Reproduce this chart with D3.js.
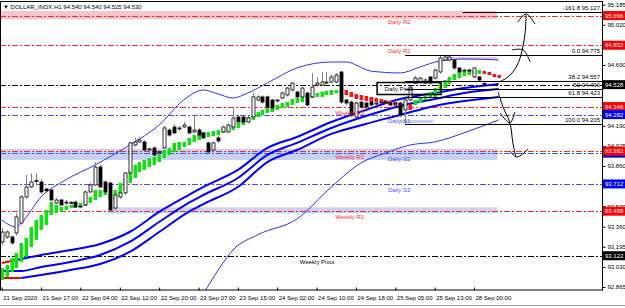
<!DOCTYPE html>
<html>
<head>
<meta charset="utf-8">
<script src="https://cdn.jsdelivr.net/npm/d3@7"></script>
<style>
  body { margin: 0; background: #fff; }
  svg text { font-family: "Liberation Sans", Arial, sans-serif; font-size: 6px; }
</style>
</head>
<body>
<div id="chart"></div>
<script>
// ---- data (H1 bars, index 0 = 21 Sep 2020 00:00) ----
const xLabels = ["21 Sep 2020", "21 Sep 17:00", "22 Sep 04:00", "22 Sep 12:00", "22 Sep 20:00",
  "23 Sep 07:00", "23 Sep 15:00", "24 Sep 02:00", "24 Sep 10:00", "24 Sep 18:00",
  "25 Sep 05:00", "25 Sep 13:00", "28 Sep 00:00"];
const xLabelBars = [0, 8, 16, 24, 32, 40, 48, 56, 64, 72, 80, 88, 96];
// grid prices; the ones hidden behind the price tags are left out
const yTicks = [95.185, 95.020, 94.690, 94.190, 94.025, 93.860, 93.530, 93.360, 93.195, 93.030, 92.865];

const opens = [
  93.235, 93.276, 93.276, 93.309, 93.391, 93.605, 93.687, 93.735, 93.728, 93.670,
  93.662, 93.555, 93.580, 93.555, 93.560, 93.563, 93.522, 93.539, 93.646, 93.703,
  93.851, 93.728, 93.720, 93.514, 93.605, 93.638, 93.802, 94.032, 94.057, 94.057,
  93.991, 94.008, 93.966, 94.008, 94.155, 94.180, 94.170, 94.180, 94.180, 94.139,
  94.155, 94.131, 94.049, 93.991, 94.090, 94.139, 94.139, 94.180, 94.262, 94.262,
  94.221, 94.262, 94.402, 94.427, 94.427, 94.402, 94.395, 94.418, 94.443, 94.484,
  94.467, 94.427, 94.459, 94.427, 94.525, 94.525, 94.541, 94.550, 94.550, 94.632,
  94.402, 94.385, 94.262, 94.385, 94.377, 94.385, 94.370, 94.380, 94.385, 94.377,
  94.375, 94.377, 94.320, 94.402, 94.541, 94.550, 94.541, 94.591, 94.582, 94.632,
  94.730, 94.730, 94.730, 94.665, 94.640, 94.648, 94.591, 94.591, 94.540];
const highs = [
  93.350, 93.330, 93.290, 93.470, 93.620, 93.785, 93.800, 93.800, 93.750, 93.680,
  93.670, 93.600, 93.590, 93.580, 93.570, 93.575, 93.540, 93.660, 93.720, 93.890,
  93.870, 93.740, 93.730, 93.630, 93.650, 93.810, 94.060, 94.090, 94.100, 94.070,
  94.010, 94.020, 93.990, 94.190, 94.170, 94.200, 94.190, 94.220, 94.190, 94.280,
  94.170, 94.140, 94.060, 94.060, 94.110, 94.190, 94.210, 94.336, 94.280, 94.270,
  94.270, 94.460, 94.440, 94.440, 94.440, 94.410, 94.410, 94.470, 94.510, 94.550,
  94.480, 94.510, 94.470, 94.624, 94.590, 94.632, 94.630, 94.610, 94.624, 94.640,
  94.410, 94.400, 94.390, 94.400, 94.390, 94.400, 94.390, 94.400, 94.400, 94.390,
  94.390, 94.390, 94.420, 94.520, 94.600, 94.590, 94.580, 94.600, 94.660, 94.770,
  94.775, 94.770, 94.740, 94.670, 94.660, 94.660, 94.670, 94.600, 94.540];
const lows = [
  93.210, 93.260, 93.210, 93.290, 93.380, 93.590, 93.680, 93.700, 93.630, 93.640,
  93.570, 93.550, 93.530, 93.540, 93.545, 93.515, 93.515, 93.530, 93.640, 93.700,
  93.680, 93.630, 93.480, 93.500, 93.590, 93.620, 93.790, 94.020, 94.050, 93.980,
  93.970, 93.940, 93.950, 94.000, 94.100, 94.120, 94.150, 94.170, 94.120, 94.130,
  94.100, 94.080, 93.960, 93.980, 94.050, 94.130, 94.130, 94.170, 94.210, 94.210,
  94.210, 94.250, 94.390, 94.370, 94.330, 94.320, 94.380, 94.410, 94.430, 94.470,
  94.410, 94.420, 94.350, 94.420, 94.510, 94.520, 94.530, 94.540, 94.540, 94.370,
  94.360, 94.260, 94.250, 94.330, 94.330, 94.350, 94.360, 94.370, 94.370, 94.350,
  94.360, 94.260, 94.205, 94.390, 94.530, 94.540, 94.530, 94.530, 94.570, 94.620,
  94.720, 94.720, 94.650, 94.620, 94.630, 94.630, 94.580, 94.555, 94.525];
const closes = [
  93.317, 93.317, 93.227, 93.441, 93.605, 93.687, 93.728, 93.740, 93.646, 93.655,
  93.580, 93.580, 93.539, 93.563, 93.555, 93.522, 93.530, 93.646, 93.703, 93.851,
  93.687, 93.646, 93.498, 93.621, 93.638, 93.802, 94.049, 94.057, 94.073, 93.991,
  94.000, 93.950, 93.975, 94.172, 94.114, 94.131, 94.172, 94.196, 94.131, 94.155,
  94.114, 94.090, 93.975, 94.049, 94.065, 94.180, 94.196, 94.254, 94.221, 94.221,
  94.254, 94.427, 94.427, 94.385, 94.344, 94.336, 94.402, 94.459, 94.500, 94.541,
  94.427, 94.500, 94.361, 94.508, 94.541, 94.550, 94.550, 94.591, 94.607, 94.385,
  94.377, 94.279, 94.377, 94.344, 94.344, 94.361, 94.377, 94.385, 94.380, 94.361,
  94.377, 94.279, 94.402, 94.508, 94.582, 94.582, 94.566, 94.541, 94.648, 94.747,
  94.755, 94.755, 94.665, 94.632, 94.648, 94.640, 94.665, 94.566, 94.530];

// smoothed (Heiken-Ashi style) bars, green up / red down
const haOpen = [
  92.923, 92.948, 92.989, 93.021, 93.071, 93.112, 93.194, 93.252, 93.334, 93.375,
  93.457, 93.473, 93.482, 93.498, 93.515, 93.515, 93.523, 93.531, 93.556, 93.580,
  93.605, 93.621, 93.580, 93.580, 93.605, 93.662, 93.720, 93.761, 93.810, 93.827,
  93.851, 93.868, 93.892, 93.925, 93.950, 93.975, 93.991, 94.016, 94.032, 94.057,
  94.073, 94.090, 94.098, 94.106, 94.114, 94.131, 94.139, 94.155, 94.172, 94.196,
  94.221, 94.238, 94.262, 94.279, 94.295, 94.303, 94.320, 94.336, 94.344, 94.361,
  94.377, 94.385, 94.402, 94.418, 94.427, 94.427, 94.443, 94.443, 94.459, 94.468,
  94.484, 94.468, 94.451, 94.443, 94.435, 94.427, 94.418, 94.410, 94.402, 94.394,
  94.385, 94.377, 94.369, 94.369, 94.361, 94.377, 94.402, 94.418, 94.427, 94.468,
  94.500, 94.533, 94.566, 94.583, 94.599, 94.607, 94.616, 94.616, 94.640, 94.632,
  94.616, 94.607];
const haClose = [
  93.021, 93.046, 93.104, 93.145, 93.227, 93.268, 93.358, 93.416, 93.457, 93.498,
  93.564, 93.539, 93.523, 93.531, 93.539, 93.539, 93.556, 93.564, 93.605, 93.662,
  93.662, 93.662, 93.638, 93.662, 93.720, 93.761, 93.827, 93.868, 93.892, 93.909,
  93.925, 93.934, 93.950, 93.991, 94.008, 94.049, 94.057, 94.057, 94.090, 94.114,
  94.131, 94.139, 94.139, 94.147, 94.155, 94.172, 94.180, 94.196, 94.213, 94.238,
  94.262, 94.279, 94.303, 94.320, 94.336, 94.344, 94.361, 94.377, 94.385, 94.410,
  94.418, 94.427, 94.443, 94.459, 94.459, 94.468, 94.476, 94.484, 94.484, 94.492,
  94.443, 94.427, 94.410, 94.402, 94.394, 94.385, 94.385, 94.377, 94.369, 94.361,
  94.353, 94.344, 94.336, 94.320, 94.402, 94.427, 94.451, 94.468, 94.500, 94.542,
  94.566, 94.591, 94.616, 94.632, 94.640, 94.648, 94.648, 94.648, 94.616, 94.607,
  94.591, 94.583];

// indicator lines as [bar, price]
const bbUpper = [[0, 93.416], [3, 93.358], [4, 93.391], [8, 93.605], [13, 93.745], [19, 93.868],
  [26, 94.032], [32, 94.196], [37, 94.402], [41, 94.484], [44, 94.451], [47, 94.418], [50, 94.459],
  [54, 94.542], [60, 94.665], [67, 94.714], [70, 94.714], [75, 94.640], [81, 94.624], [85, 94.673],
  [89, 94.722], [94, 94.739], [101, 94.731]];
const bbLower = [[38, 92.676], [41, 92.816], [44, 93.005], [47, 93.169], [52, 93.293], [60, 93.424],
  [67, 93.687], [73, 93.884], [78, 93.966], [83, 94.032], [88, 94.057], [95, 94.147], [101, 94.238]];
const maTop = [[0, 93.062], [3, 93.087], [8, 93.128], [14, 93.169], [20, 93.219], [26, 93.317],
  [32, 93.482], [38, 93.621], [41, 93.687], [48, 93.827], [54, 94.008], [60, 94.098], [67, 94.221],
  [74, 94.320], [81, 94.410], [88, 94.459], [94, 94.500], [101, 94.533]];
const maMid = [[0, 92.997], [4, 92.997], [8, 93.030], [14, 93.071], [20, 93.128], [26, 93.235],
  [32, 93.399], [38, 93.556], [41, 93.621], [48, 93.761], [54, 93.950], [60, 94.049], [67, 94.172],
  [74, 94.270], [81, 94.353], [88, 94.410], [94, 94.459], [101, 94.492]];
const maLow = [[0, 92.939], [4, 92.939], [8, 92.964], [14, 93.005], [20, 93.054], [26, 93.153],
  [32, 93.317], [38, 93.482], [41, 93.547], [48, 93.687], [54, 93.892], [60, 93.991], [67, 94.123],
  [74, 94.205], [81, 94.279], [88, 94.353], [94, 94.394], [101, 94.427]];
const maTopRedUntil = 3;
const maLowRedUntil = 4;

// pivot levels
const levelNames = ["Daily R2", "Daily R1", "Daily Pivot", "Weekly R3", "Daily S1",
  "Daily S2", "Weekly R2", "Daily S3", "Weekly R1", "Weekly Pivot"];
const levelPrices = [95.096, 94.852, 94.528, 94.348, 94.282, 93.965, 93.982, 93.712, 93.488, 93.122];
// tags whose value is covered by a neighbouring tag on the price scale
const hiddenTags = ["Daily S2"];

// fibonacci retracement
const fibRatios = ["-161.8", "0.0", "38.2", "50", "61.8", "100.0"];
const fibPrices = [95.127, 94.775, 94.557, 94.490, 94.423, 94.205];
const fibStartBars = [93.7, 82, 82, 82, 82, 82];

// supply / demand zones: [fromBar, toBar, hi, lo]
const zonesRed = [[-1, 100.7, 95.133, 95.067], [90, 100.7, 94.755, 94.731]];
const zonesBlue = [[-1, 100.7, 94.000, 93.909], [21.6, 100.7, 93.520, 93.470], [81, 87.7, 94.238, 94.213]];

// hand drawn arrows [bar, price]
const arrowUp = [[101.1, 94.550], [102.9, 94.591], [104.7, 94.681], [105.8, 94.813], [106.4, 94.961], [106.6, 95.100]];
const arrowUpHead = [[104.9, 95.043], [106.6, 95.109], [108.4, 95.026]];
const arrowUpFork = [[103.7, 94.813], [106, 94.813], [107.4, 94.714]];
const arrowDown = [[100.9, 94.468], [101.9, 94.344], [103.3, 94.213], [103.9, 94.049], [104.5, 93.933]];
const arrowDownHead = [[103.3, 93.983], [104.7, 93.933], [107, 93.999]];
const arrowDownFork = [[101.3, 94.295], [103.3, 94.213], [104.3, 94.303]];

// ---- layout ----
const W = 625, H = 308;
const plotRight = 602, plotTop = 2, plotBottom = 290;

const svg = d3.select("#chart").append("svg").attr("width", W).attr("height", H);

const x = d3.scaleLinear().domain([0, 100]).range([1.7, 493.7]);
const y = d3.scaleLinear().domain([92.865, 95.185]).range([287, 4.7]);
const yc = v => Math.round(y(v)) + 0.5;
const xc = v => Math.round(x(v)) + 0.5;

svg.append("clipPath").attr("id", "plot")
  .append("rect").attr("x", 0).attr("y", plotTop).attr("width", plotRight).attr("height", plotBottom - plotTop);

const g = svg.append("g").attr("clip-path", "url(#plot)");

// zones
const zone = (data, fill) => g.selectAll(null).data(data).enter().append("rect")
  .attr("x", d => Math.max(0, x(d[0])))
  .attr("y", d => y(d[2]))
  .attr("width", d => x(d[1]) - Math.max(0, x(d[0])))
  .attr("height", d => y(d[3]) - y(d[2]))
  .attr("fill", fill);
zone(zonesRed, "#f7c4c8");
zone(zonesBlue, "#c6d2f2");

// level lines
const levelColor = n => n.includes("Pivot") ? "#000" : n.includes("S") && n.startsWith("Daily") ? "#4a4aff" : "#ff2a2a";
g.selectAll(".lvl").data(levelNames).enter().append("line")
  .attr("x1", 0).attr("x2", plotRight)
  .attr("y1", (d, i) => yc(levelPrices[i])).attr("y2", (d, i) => yc(levelPrices[i]))
  .attr("stroke", d => levelColor(d))
  .attr("stroke-width", 1)
  .attr("stroke-dasharray", "6,2,2,2");

// indicator lines
const line = d3.line().x(d => x(d[0])).y(d => y(d[1])).curve(d3.curveMonotoneX);
g.append("path").attr("d", line(bbUpper)).attr("fill", "none").attr("stroke", "#2f2fff").attr("stroke-width", 1);
g.append("path").attr("d", line(bbLower)).attr("fill", "none").attr("stroke", "#2f2fff").attr("stroke-width", 1);

const thick = (pts, redUntil) => {
  const split = redUntil || 0;
  if (split > 0) {
    const red = pts.filter(p => p[0] <= split);
    g.append("path").attr("d", line(red)).attr("fill", "none").attr("stroke", "#ff0000").attr("stroke-width", 2);
  }
  const blue = pts.filter(p => p[0] >= split);
  g.append("path").attr("d", line(blue)).attr("fill", "none").attr("stroke", "#0000ff").attr("stroke-width", 2);
};
thick(maTop, maTopRedUntil);
thick(maMid, 0);
thick(maLow, maLowRedUntil);

// smoothed bars
g.selectAll(".ha").data(haOpen).enter().append("rect")
  .attr("x", (d, i) => Math.round(x(i)) - 1.5)
  .attr("width", 3.5)
  .attr("y", (d, i) => y(Math.max(d, haClose[i])))
  .attr("height", (d, i) => Math.max(1.5, Math.abs(y(d) - y(haClose[i]))))
  .attr("fill", (d, i) => haClose[i] >= d ? "#10e010" : "#ff1010");

// candles
const candles = g.selectAll(".c").data(opens).enter().append("g");
candles.append("line")
  .attr("x1", (d, i) => xc(i)).attr("x2", (d, i) => xc(i))
  .attr("y1", (d, i) => y(highs[i])).attr("y2", (d, i) => y(lows[i]))
  .attr("stroke", "#808080").attr("stroke-width", 1);
candles.append("rect")
  .attr("x", (d, i) => Math.round(x(i)) - 1)
  .attr("width", 3)
  .attr("y", (d, i) => y(Math.max(d, closes[i])))
  .attr("height", (d, i) => Math.max(1, Math.abs(y(d) - y(closes[i]))))
  .attr("fill", (d, i) => closes[i] >= d ? "#fff" : "#000")
  .attr("stroke", "#000").attr("stroke-width", 0.8);

// fibonacci
g.selectAll(".fib").data(fibPrices).enter().append("line")
  .attr("x1", (d, i) => x(fibStartBars[i])).attr("x2", plotRight)
  .attr("y1", d => yc(d)).attr("y2", d => yc(d))
  .attr("stroke", "#000").attr("stroke-width", 1);
g.selectAll(".fibt").data(fibPrices).enter().append("text")
  .attr("x", 600).attr("y", d => y(d) - 2)
  .attr("text-anchor", "end")
  .text((d, i) => fibRatios[i] + "  " + d3.format(".3f")(d));

// level labels
const labelBar = n => n === "Weekly Pivot" ? 60.6 : n.startsWith("Weekly") ? 67.8 : 78.5;
levelNames.forEach((n, i) => {
  if (n === "Daily Pivot") {
    const lx = x(76.2), ly = y(levelPrices[i]);
    g.append("rect").attr("x", lx + 0.5).attr("y", Math.round(ly) - 2.5).attr("width", 64).attr("height", 12)
      .attr("fill", "none").attr("stroke", "#000").attr("stroke-width", 1.5);
    g.append("text").attr("x", lx + 8).attr("y", ly + 6.5).attr("fill", "#000").text(n);
  } else {
    g.append("text").attr("x", x(labelBar(n))).attr("y", y(levelPrices[i]) + 8)
      .attr("fill", levelColor(n)).text(n);
  }
});

// hand drawn arrows
const sketch = d3.line().x(d => x(d[0])).y(d => y(d[1])).curve(d3.curveCatmullRom);
[arrowUp, arrowUpHead, arrowUpFork, arrowDown, arrowDownHead, arrowDownFork].forEach(a => {
  svg.append("path").attr("d", sketch(a)).attr("fill", "none").attr("stroke", "#000").attr("stroke-width", 1);
});

// frame
svg.append("rect").attr("x", 0.5).attr("y", 1.5).attr("width", plotRight).attr("height", plotBottom - 1.5)
  .attr("fill", "none").attr("stroke", "#000").attr("stroke-width", 1);

// axes
const yAxis = svg.append("g").attr("transform", `translate(${plotRight + 0.5},0)`)
  .call(d3.axisRight(y).tickValues(yTicks).tickSize(3).tickPadding(2).tickFormat(d3.format(".3f")));
yAxis.select(".domain").remove();
yAxis.selectAll("text").attr("font-size", 6).attr("font-family", null);

const xAxis = svg.append("g").attr("transform", `translate(0,${plotBottom + 0.5})`)
  .call(d3.axisBottom(x).tickValues(xLabelBars).tickSize(3).tickPadding(2).tickFormat((d, i) => xLabels[i]));
xAxis.select(".domain").remove();
xAxis.selectAll("text").attr("text-anchor", "start").attr("dx", 1).attr("font-size", 6).attr("font-family", null);
xAxis.selectAll(".tick line").attr("transform", "translate(0,-3)");

// price tags on axis
const tagFill = n => n.includes("Pivot") ? "#000" : n.startsWith("Daily") && n.includes("S") ? "#0000ff" : "#ff0000";
levelNames.forEach((n, i) => {
  const ty = y(levelPrices[i]);
  svg.append("rect").attr("x", plotRight + 1).attr("y", ty - 4.5).attr("width", 24).attr("height", 9)
    .attr("fill", tagFill(n));
  if (hiddenTags.includes(n)) return;
  svg.append("text").attr("x", plotRight + 3).attr("y", ty + 2.2).attr("fill", "#fff")
    .text(d3.format(".3f")(levelPrices[i]));
});

// title
svg.append("text").attr("x", 3).attr("y", 9).attr("fill", "#000").text("▼  DOLLAR_INDX,H1  94.540 94.540 94.525 94.530");

// bottom tab strip
svg.append("line").attr("x1", 0).attr("x2", W).attr("y1", 305.5).attr("y2", 305.5).attr("stroke", "#a0a0a0");
</script>
</body>
</html>
